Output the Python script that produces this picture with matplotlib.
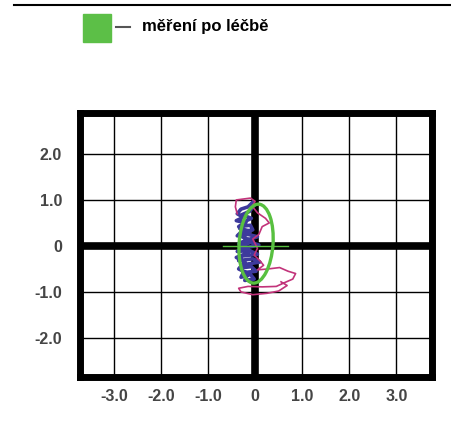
import matplotlib
matplotlib.use("Agg")
import matplotlib.pyplot as plt
from matplotlib.patches import Ellipse, Rectangle
from matplotlib.lines import Line2D

plt.rcParams['font.family'] = ['Liberation Sans', 'DejaVu Sans']

# tick positions / labels
xticks = [-3, -2, -1, 0, 1, 2, 3]
xlabels = ["-3.0", "-2.0", "-1.0", "0", "1.0", "2.0", "3.0"]
yticks = [-2, -1, 0, 1, 2]
ylabels = ["-2.0", "-1.0", "0", "1.0", "2.0"]

# sway trace (dark blue scribble)
trace_x = [-0.05, -0.15, -0.30, -0.38, -0.25, -0.40, -0.20, -0.35, -0.10, -0.05,
           -0.30, -0.38, -0.15, 0.05, -0.20, -0.35, -0.10, 0.08, -0.25, -0.38,
           -0.12, 0.05, -0.28, -0.35, -0.05, 0.10, -0.20, -0.32, -0.08, 0.02,
           -0.25, -0.30, -0.10, -0.02, -0.22, -0.15, -0.35, -0.22, -0.40, -0.15,
           -0.30, -0.05, -0.28, -0.10, -0.33, -0.18, -0.08, -0.28, -0.12, -0.02]
trace_y = [0.95, 0.85, 0.80, 0.70, 0.62, 0.55, 0.50, 0.42, 0.45, 0.35,
           0.30, 0.22, 0.25, 0.20, 0.12, 0.05, 0.08, 0.02, -0.05, -0.12,
           -0.10, -0.18, -0.22, -0.32, -0.28, -0.35, -0.40, -0.48, -0.45, -0.55,
           -0.58, -0.68, -0.62, -0.72, -0.75, -0.60, -0.50, -0.35, -0.25, -0.15,
           0.00, 0.10, 0.20, 0.32, 0.38, 0.55, 0.60, 0.68, 0.75, 0.88]

# magenta outline trace
outline_x = [-0.38, -0.42, -0.40, -0.25, -0.10, 0.00, -0.06, 0.05, 0.22, 0.30,
             0.15, 0.08, -0.05, 0.05, -0.02, 0.10, 0.18, 0.05, 0.28, 0.52,
             0.70, 0.86, 0.80, 0.62, 0.45, 0.15, -0.15, -0.35, -0.30, -0.05,
             0.25, 0.50, 0.68, 0.55]
outline_y = [0.70, 0.85, 1.00, 1.02, 1.04, 0.97, 0.86, 0.72, 0.60, 0.50,
             0.42, 0.25, 0.15, -0.05, -0.20, -0.32, -0.42, -0.52, -0.50, -0.47,
             -0.55, -0.60, -0.72, -0.80, -0.88, -0.89, -0.88, -0.92, -1.00, -1.06,
             -1.03, -0.98, -0.86, -0.78]

# 95% ellipse
ell_center = (0.02, 0.05)
ell_width = 0.72
ell_height = 1.72
ell_angle = -4
axis_x = [-0.68, 0.70]
axis_y = [0.0, 0.0]

fig = plt.figure(figsize=(4.52, 4.28), dpi=100)
ax = fig.add_axes([0.177, 0.118, 0.778, 0.618])
ax.set_xlim(-3.72, 3.75)
ax.set_ylim(-2.86, 2.89)

for v in xticks:
    ax.axvline(v, color='black', lw=5.5 if v == 0 else 1.0, zorder=1)
for v in yticks:
    ax.axhline(v, color='black', lw=5.5 if v == 0 else 1.0, zorder=1)

ax.plot(trace_x, trace_y, color='#3d3a9c', lw=2.6, zorder=3)
ax.plot(outline_x, outline_y, color='#c2337a', lw=1.2, zorder=4)
ax.plot(axis_x, axis_y, color='#58c040', lw=1.0, zorder=5)
ax.add_patch(Ellipse(ell_center, ell_width, ell_height, angle=ell_angle,
                     fill=False, edgecolor='#58c040', lw=2.4, zorder=6))

ax.set_xticks(xticks)
ax.set_xticklabels(xlabels, fontweight='bold')
ax.set_yticks(yticks)
ax.set_yticklabels(ylabels, fontweight='bold')
ax.tick_params(length=0, labelsize=11.5, labelcolor='#454545')
ax.tick_params(axis='x', pad=8)
ax.tick_params(axis='y', pad=13)
for s in ax.spines.values():
    s.set_linewidth(5)
    s.set_color('black')

# legend-like header
fig.add_artist(Rectangle((83 / 452, 1 - 42 / 428), 28 / 452, 28 / 428,
                         transform=fig.transFigure, color='#5cbf47'))
fig.add_artist(Line2D([116 / 452, 130 / 452], [1 - 27 / 428, 1 - 27 / 428],
                      transform=fig.transFigure, color='#555555', lw=1.5))
fig.text(142 / 452, 1 - 27 / 428, "měření po léčbě", fontsize=12,
         fontweight='bold', va='center')
fig.add_artist(Line2D([14 / 452, 1], [1 - 5 / 428, 1 - 5 / 428],
                      transform=fig.transFigure, color='black', lw=1.5))

fig.savefig("out.png", dpi=100)
